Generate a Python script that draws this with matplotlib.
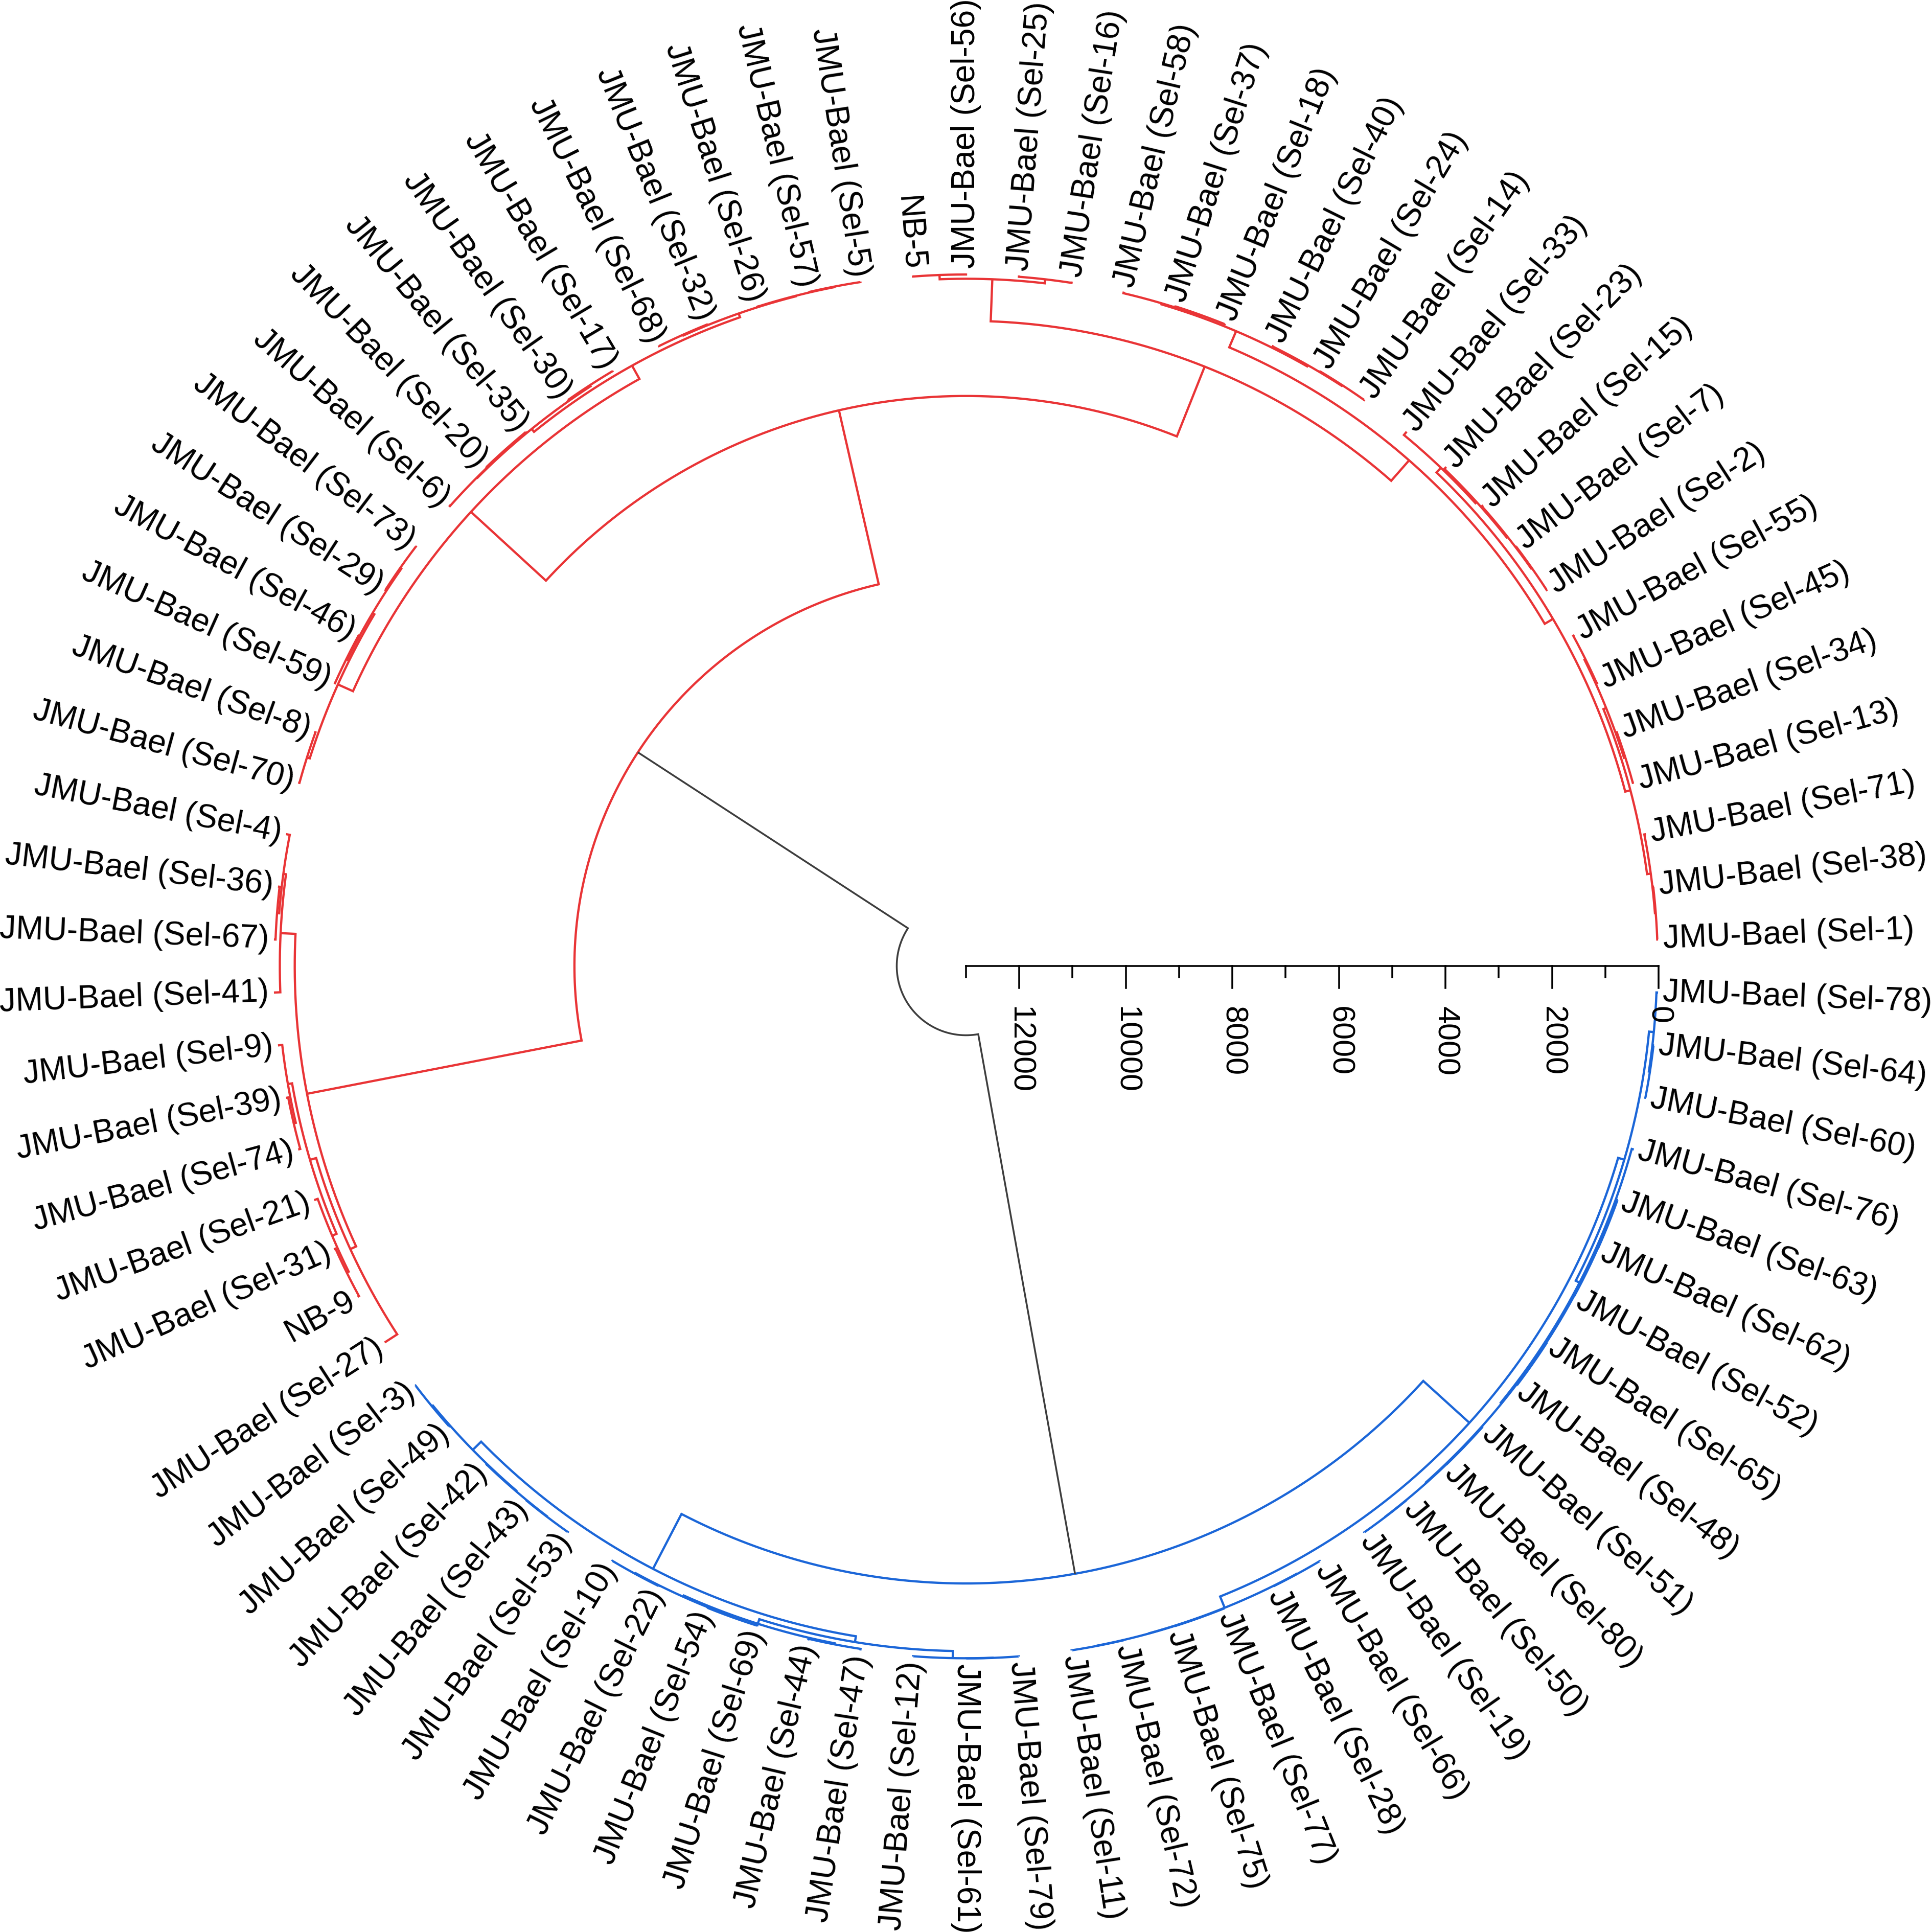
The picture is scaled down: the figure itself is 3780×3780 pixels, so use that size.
import numpy as np
import matplotlib.pyplot as plt

plt.rcParams['font.family'] = ['Liberation Sans', 'DejaVu Sans']

# Reihenfolge der Blätter, gegen den Uhrzeigersinn ab der Skala
leaf_order = [
    'Sel-1', 'Sel-38', 'Sel-71', 'Sel-13', 'Sel-34', 'Sel-45', 'Sel-55', 'Sel-2',
    'Sel-7', 'Sel-15', 'Sel-23', 'Sel-33', 'Sel-14', 'Sel-24', 'Sel-40', 'Sel-18',
    'Sel-37', 'Sel-58', 'Sel-16', 'Sel-25', 'Sel-56', 'NB-5', 'Sel-5', 'Sel-57',
    'Sel-26', 'Sel-32', 'Sel-68', 'Sel-17', 'Sel-30', 'Sel-35', 'Sel-20', 'Sel-6',
    'Sel-73', 'Sel-29', 'Sel-46', 'Sel-59', 'Sel-8', 'Sel-70', 'Sel-4', 'Sel-36',
    'Sel-67', 'Sel-41', 'Sel-9', 'Sel-39', 'Sel-74', 'Sel-21', 'Sel-31', 'NB-9',
    'Sel-27', 'Sel-3', 'Sel-49', 'Sel-42', 'Sel-43', 'Sel-53', 'Sel-10', 'Sel-22',
    'Sel-54', 'Sel-69', 'Sel-44', 'Sel-47', 'Sel-12', 'Sel-61', 'Sel-79', 'Sel-11',
    'Sel-72', 'Sel-75', 'Sel-77', 'Sel-28', 'Sel-66', 'Sel-19', 'Sel-50', 'Sel-80',
    'Sel-51', 'Sel-48', 'Sel-65', 'Sel-52', 'Sel-62', 'Sel-63', 'Sel-76', 'Sel-60',
    'Sel-64', 'Sel-78',
]

# Teilbäume: (links, rechts, Fusionshöhe)
arr_b2 = ((('Sel-1', 'Sel-38', 15), 'Sel-71', 30),
          (('Sel-13', 'Sel-34', 20), ('Sel-45', 'Sel-55', 25), 45), 100)
arr_b1 = (((('Sel-2', 'Sel-7', 15), 'Sel-15', 30), 'Sel-23', 50), 'Sel-33', 80)
arr_a = ((('Sel-14', 'Sel-24', 10), 'Sel-40', 25),
         (('Sel-18', 'Sel-37', 10), 'Sel-58', 30), 50)
art = (('Sel-16', 'Sel-25', 25), ('Sel-56', 'NB-5', 20), 100)
a_right = (((arr_b2, arr_b1, 200), arr_a, 380), art, 890)

ala1 = ((('Sel-5', 'Sel-57', 10), 'Sel-26', 20), ('Sel-32', 'Sel-68', 15), 30)
ala2 = (('Sel-17', 'Sel-30', 12), (('Sel-35', 'Sel-20', 10), 'Sel-6', 25), 35)
alb = ((('Sel-73', 'Sel-29', 15), ('Sel-46', 'Sel-59', 20), 40),
       ('Sel-8', 'Sel-70', 25), 80)
a_left = ((ala1, ala2, 105), alb, 390)

l1 = (('Sel-4', ('Sel-36', 'Sel-67', 30), 70), 'Sel-41', 120)
l2a = (('Sel-9', ('Sel-39', 'Sel-74', 40), 80),
       ('Sel-21', ('Sel-31', 'NB-9', 30), 70), 160)
cluster_red = ((a_right, a_left, 2300), (l1, (l2a, 'Sel-27', 280), 400), 5650)

bl1 = (('Sel-3', 'Sel-49', 8), ('Sel-42', ('Sel-43', 'Sel-53', 10), 18), 30)
bl2a = ((('Sel-10', 'Sel-22', 10), ('Sel-54', 'Sel-69', 12), 25),
        ('Sel-44', 'Sel-47', 30), 50)
bl2b = ('Sel-12', ('Sel-61', 'Sel-79', 3), 6)
br1 = ((('Sel-11', 'Sel-72', 3), ('Sel-75', 'Sel-77', 4), 8), ('Sel-28', 'Sel-66', 5), 12)
br2a = (((('Sel-19', 'Sel-50', 4), ('Sel-80', 'Sel-51', 5), 8),
         (('Sel-48', 'Sel-65', 5), ('Sel-52', ('Sel-62', 'Sel-63', 6), 10), 14), 20),
        'Sel-76', 40)
br2b = (('Sel-60', 'Sel-64', 10), 'Sel-78', 30)
cluster_blue = ((bl1, (bl2a, bl2b, 140), 250), (br1, (br2a, br2b, 120), 240), 1410)

root_height = 11700

scale_ticks = list(range(0, 14000, 1000))
scale_max = 13000

RED = '#E93436'
BLUE = '#1B66D8'
GREY = '#3D3D3D'
LW = 1.05
LW_GREY = 0.85

step = 360.0 / len(leaf_order)
leaf_angle = {name: step * (i + 0.5) for i, name in enumerate(leaf_order)}


def radius(h):
    return 1.0 - h / scale_max


def polar(r, a):
    t = np.radians(a)
    return r * np.cos(t), r * np.sin(t)


def node_path(ax, a1, h1, a2, h2, h, color, lw):
    r = radius(h)
    t = np.linspace(a1, a2, 300)
    x0, y0 = polar(radius(h1), a1)
    x1, y1 = polar(radius(h2), a2)
    xa, ya = polar(r, t)
    xs = np.concatenate([[x0], xa, [x1]])
    ys = np.concatenate([[y0], ya, [y1]])
    ax.plot(xs, ys, color=color, lw=lw, solid_joinstyle='miter', solid_capstyle='butt')


def draw(ax, node, color):
    if isinstance(node, str):
        return leaf_angle[node], 0.0
    left, right, h = node
    a1, h1 = draw(ax, left, color)
    a2, h2 = draw(ax, right, color)
    node_path(ax, a1, h1, a2, h2, h, color, LW)
    return (a1 + a2) / 2.0, h


fig = plt.figure(figsize=(12.6, 12.6), dpi=300)
ax = fig.add_axes([0, 0, 1, 1])
lim = 1.3948
ax.set_xlim(-lim, lim)
ax.set_ylim(-lim, lim)
ax.set_aspect('equal')
ax.axis('off')

a_red, h_red = draw(ax, cluster_red, RED)
a_blue, h_blue = draw(ax, cluster_blue, BLUE)
node_path(ax, a_red, h_red, a_blue, h_blue, root_height, GREY, LW_GREY)

# Beschriftung der Blätter
for name in leaf_order:
    a = leaf_angle[name]
    label = name if name.startswith('NB') else f'JMU-Bael ({name})'
    x, y = polar(1.007, a)
    if 90.001 < a < 269.999:
        ax.text(x, y, label, rotation=a - 180, ha='right', va='center',
                rotation_mode='anchor', fontsize=15.4)
    else:
        ax.text(x, y, label, rotation=a, ha='left', va='center',
                rotation_mode='anchor', fontsize=15.4)

# Skala
ax.plot([radius(scale_max), radius(0)], [0, 0], color='black', lw=LW_GREY)
for v in scale_ticks:
    x = radius(v)
    length = 0.032 if v % 2000 == 0 else 0.016
    ax.plot([x, x], [0, -length], color='black', lw=LW_GREY)
    if v % 2000 == 0:
        ax.text(x, -0.058, str(v), rotation=-90, ha='center', va='top', fontsize=14.7)

fig.savefig('out.png', dpi=300, facecolor='white')
